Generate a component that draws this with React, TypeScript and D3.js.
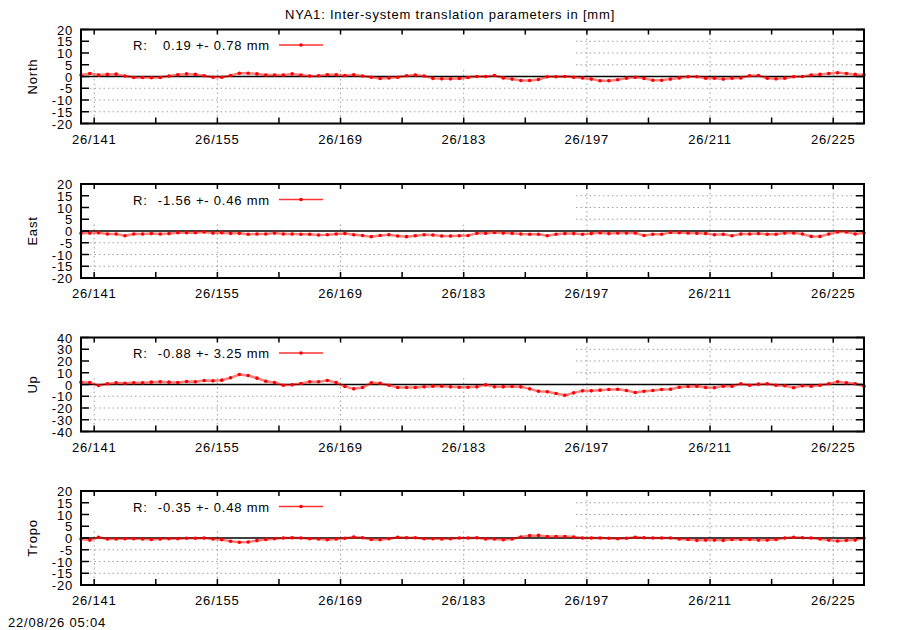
import React from 'react';
import * as d3 from 'd3';

// ---- data ----
const dayStart = 139.5;
const north = [
  0.6, 1.3, 0.6, 0.9, 1.0, 0.2, -0.4, -0.4, -0.5, -0.4,
  0.2, 0.7, 1.1, 0.9, 0.3, -0.3, -0.3, 0.4, 1.4, 1.4,
  1.1, 0.6, 0.6, 0.6, 1.1, 0.6, 0.2, 0.3, 0.7, 0.7,
  0.4, 0.7, 0.2, -0.3, -0.8, -0.6, -0.3, 0.3, 0.6, 0.2,
  -0.8, -1.0, -1.0, -0.8, -0.4, 0.0, 0.0, 0.4, -0.6, -1.1,
  -1.7, -1.7, -1.3, -0.1, -0.1, 0.0, -0.3, -0.6, -1.1, -1.8,
  -1.8, -1.4, -0.7, -0.3, -0.8, -1.6, -1.6, -1.1, -0.6, -0.1,
  -0.1, -0.7, -0.7, -1.1, -0.7, -0.6, 0.3, 0.4, -0.7, -1.0,
  -0.7, -0.1, 0.0, 0.6, 0.9, 1.3, 1.6, 1.3, 0.9, 0.7,
];
const east = [
  -1.0, -0.9, -0.7, -1.3, -1.3, -2.0, -1.3, -1.3, -1.1, -1.3,
  -1.1, -0.7, -0.7, -0.7, -0.4, -0.9, -0.7, -1.0, -1.0, -1.4,
  -1.3, -1.3, -0.9, -1.3, -1.3, -1.4, -1.4, -1.7, -1.6, -1.3,
  -1.1, -1.6, -1.9, -2.4, -1.9, -1.6, -2.1, -2.4, -2.0, -1.6,
  -1.7, -2.1, -2.1, -2.0, -1.9, -1.0, -1.0, -0.6, -0.9, -1.0,
  -1.3, -1.4, -1.4, -2.0, -1.4, -1.1, -1.1, -1.4, -1.1, -0.7,
  -1.1, -0.9, -0.9, -0.9, -1.9, -1.4, -1.4, -0.6, -0.7, -0.9,
  -1.0, -1.1, -1.6, -1.4, -2.0, -1.3, -1.3, -1.1, -1.4, -1.4,
  -0.9, -0.9, -1.3, -2.3, -2.3, -1.3, -0.4, -0.4, -1.3, -0.9,
];
const up = [
  2.0, 1.7, -0.9, 0.6, 1.4, 1.1, 1.4, 1.4, 2.0, 2.3,
  2.0, 1.7, 2.6, 2.3, 3.4, 3.1, 3.7, 5.7, 8.5, 7.7,
  5.4, 2.8, 1.7, -0.6, -0.3, 0.9, 2.3, 2.3, 3.4, 1.7,
  -1.7, -3.7, -2.6, 1.4, 1.1, -0.6, -2.6, -2.6, -2.6, -2.0,
  -1.4, -1.4, -2.0, -2.3, -2.3, -2.0, -0.3, -2.0, -2.0, -1.7,
  -2.0, -3.7, -5.7, -6.2, -7.7, -9.1, -7.1, -5.4, -5.4, -4.8,
  -4.3, -4.0, -5.1, -6.8, -5.7, -5.1, -4.3, -4.0, -2.3, -1.7,
  -1.4, -2.6, -2.8, -1.4, -1.4, 0.6, -0.6, 0.3, 0.6, -0.6,
  -1.1, -2.8, -1.1, -1.4, -0.6, 0.6, 2.3, 1.4, 0.6, -1.4,
];
const tropo = [
  -0.4, -0.9, 0.3, -0.4, -0.4, -0.3, -0.3, -0.4, -0.6, -0.4,
  -0.3, -0.3, -0.1, -0.1, 0.0, -0.4, -0.7, -1.4, -1.8, -1.7,
  -1.1, -0.6, -0.3, 0.0, 0.1, 0.0, -0.3, -0.4, -0.7, -0.4,
  -0.1, 0.4, 0.1, -0.6, -0.7, -0.3, 0.3, 0.1, 0.1, -0.3,
  -0.3, -0.4, -0.3, 0.0, 0.0, 0.1, -0.4, -0.4, -0.7, -0.4,
  0.4, 1.0, 1.1, 0.6, 0.6, 0.6, 0.4, 0.0, 0.0, 0.0,
  -0.1, -0.3, -0.1, 0.3, 0.1, 0.0, 0.0, 0.0, -0.4, -0.6,
  -1.0, -0.9, -0.9, -1.0, -0.6, -0.6, -0.6, -0.9, -0.9, -0.6,
  0.0, 0.3, 0.1, 0.0, -0.4, -0.9, -1.3, -1.0, -0.9, 0.0,
];
const panelNames = ['North', 'East', 'Up', 'Tropo'];
const panelStats = ['0.19 +- 0.78 mm', '-1.56 +- 0.46 mm', '-0.88 +- 3.25 mm', '-0.35 +- 0.48 mm'];
const panelLimits = [20, 20, 40, 20];
const panelSteps = [5, 5, 10, 5];
const xMajorTicks = [141, 155, 169, 183, 197, 211, 225];
const xTickLabels = ['26/141', '26/155', '26/169', '26/183', '26/197', '26/211', '26/225'];
const xMinorTicks = [148, 162, 176, 190, 204, 218];
const xDomain = [139.5, 228.5];
const title = 'NYA1: Inter-system translation parameters in [mm]';
const timestamp = '22/08/26 05:04';

const series = [north, east, up, tropo];

// ---- layout ----
const W = 900;
const H = 630;
const L = 81;
const R = 864;
const tops = [29.5, 184, 337.5, 491];
const PH = 94;
const FONT = "'Liberation Sans', Arial, sans-serif";
const FS = 13;
const LS = 0.8;

function Panel({ idx }: { idx: number }) {
  const top = tops[idx];
  const bottom = top + PH;
  const vals = series[idx];
  const x = d3.scaleLinear().domain(xDomain).range([L, R]);
  const lim = panelLimits[idx];
  const y = d3.scaleLinear().domain([-lim, lim]).range([bottom, top]);
  const yTicks = d3.range(-lim, lim + 0.001, panelSteps[idx]);
  const days = vals.map((_, i) => dayStart + i);
  const line = d3
    .line<number>()
    .x((_, i) => x(days[i]))
    .y((v) => y(v));
  const legendRight = 573;
  const legendH = 38;
  const grid = '#a0a0a0';
  return (
    <g>
      {yTicks
        .filter((t) => Math.abs(t) < lim - 1e-9 && t !== 0)
        .map((t) => (
          <line key={'gy' + t} x1={L} x2={R} y1={y(t)} y2={y(t)} stroke={grid} strokeWidth={1} strokeDasharray="1.5,3" />
        ))}
      {xMajorTicks.map((d) => (
        <line key={'gx' + d} x1={x(d)} x2={x(d)} y1={top} y2={bottom} stroke={grid} strokeWidth={1} strokeDasharray="1.5,3" />
      ))}
      <rect x={L} y={top} width={legendRight - L} height={legendH} fill="#fff" />
      <line x1={L} x2={R} y1={y(0)} y2={y(0)} stroke="#000" strokeWidth={1.5} />
      <path d={line(vals) || ''} fill="none" stroke="#ff0000" strokeOpacity={0.5} strokeWidth={2.5} />
      {vals.map((v, i) => (
        <circle key={'p' + i} cx={x(days[i])} cy={y(v)} r={1.8} fill="#ff0000" />
      ))}
      <text x={133} y={top + 20.5} fontFamily={FONT} fontSize={FS} letterSpacing={LS}>R:</text>
      <text x={270} y={top + 20.5} textAnchor="end" fontFamily={FONT} fontSize={FS} letterSpacing={LS}>{panelStats[idx]}</text>
      <line x1={279} x2={323} y1={top + 15.5} y2={top + 15.5} stroke="#ff0000" strokeWidth={1.5} strokeOpacity={0.8} />
      <circle cx={301} cy={top + 15.5} r={1.8} fill="#ff0000" />
      <rect x={L} y={top} width={R - L} height={PH} fill="none" stroke="#000" strokeWidth={2} />
      {yTicks.map((t) => (
        <g key={'yt' + t}>
          <line x1={L} x2={L + 8} y1={y(t)} y2={y(t)} stroke="#000" strokeWidth={1.5} />
          <line x1={R - 8} x2={R} y1={y(t)} y2={y(t)} stroke="#000" strokeWidth={1.5} />
          <text x={73} y={y(t) + 5} textAnchor="end" fontFamily={FONT} fontSize={FS} letterSpacing={LS}>
            {t}
          </text>
        </g>
      ))}
      {[...xMajorTicks, ...xMinorTicks].map((d) => (
        <g key={'xt' + d}>
          <line x1={x(d)} x2={x(d)} y1={top} y2={top + 5} stroke="#000" strokeWidth={1.5} />
          <line x1={x(d)} x2={x(d)} y1={bottom - 6} y2={bottom} stroke="#000" strokeWidth={1.5} />
        </g>
      ))}
      {xMajorTicks.map((d, i) => (
        <text key={'xl' + d} x={x(d)} y={bottom + 20} textAnchor="middle" fontFamily={FONT} fontSize={FS} letterSpacing={LS}>
          {xTickLabels[i]}
        </text>
      ))}
      <text
        transform={`translate(36.5,${(top + bottom) / 2}) rotate(-90)`}
        textAnchor="middle"
        fontFamily={FONT}
        fontSize={FS}
        letterSpacing={LS}
      >
        {panelNames[idx]}
      </text>
    </g>
  );
}

export default function App() {
  return (
    <svg
      width={W}
      height={H}
      viewBox={`0 0 ${W} ${H}`}
      style={{ position: 'absolute', left: 0, top: 0, background: '#fff' }}
    >
      <rect x={0} y={0} width={W} height={H} fill="#fff" />
      <text x={450} y={19} textAnchor="middle" fontFamily={FONT} fontSize={FS} letterSpacing={LS}>
        {title}
      </text>
      {panelNames.map((_, i) => (
        <Panel key={i} idx={i} />
      ))}
      <text x={8} y={626.5} fontFamily={FONT} fontSize={FS} letterSpacing={LS}>
        {timestamp}
      </text>
    </svg>
  );
}
